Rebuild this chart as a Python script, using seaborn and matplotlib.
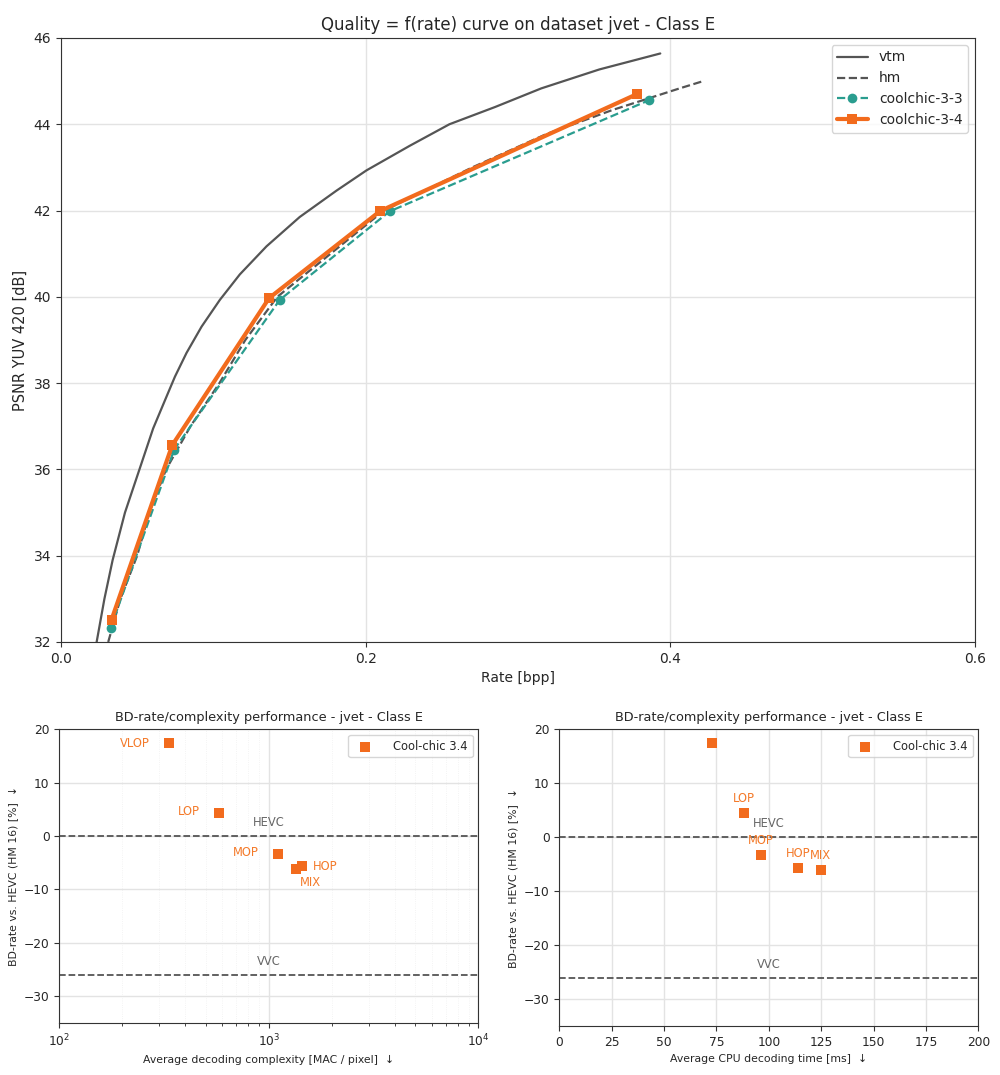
import numpy as np
import pandas as pd
import matplotlib
matplotlib.use("Agg")
import matplotlib.pyplot as plt
import seaborn as sns

# ---------------- data ----------------
vtm_rate = [0.0234, 0.0285, 0.0339, 0.0420, 0.0515, 0.0605, 0.0693, 0.0748, 0.0824,
            0.0923, 0.1043, 0.1174, 0.1349, 0.1567, 0.1808, 0.2005, 0.2289, 0.2550,
            0.2850, 0.3152, 0.3534, 0.3934]
vtm_psnr = [32.00, 33.00, 33.90, 35.00, 36.00, 36.95, 37.69, 38.15, 38.70,
            39.31, 39.93, 40.52, 41.17, 41.85, 42.46, 42.93, 43.50, 44.00,
            44.40, 44.83, 45.27, 45.64]

hm_rate = [0.0310, 0.0390, 0.0500, 0.0580, 0.0690, 0.0850, 0.1040, 0.1210, 0.1420,
           0.1770, 0.2120, 0.2700, 0.3185, 0.3620, 0.4060, 0.4216]
hm_psnr = [32.00, 33.00, 34.00, 35.00, 36.00, 37.00, 38.00, 39.00, 40.00,
           41.00, 42.00, 43.00, 43.77, 44.33, 44.83, 45.00]

cc33_rate = [0.0326, 0.0743, 0.1436, 0.2157, 0.3862]
cc33_psnr = [32.33, 36.46, 39.93, 41.98, 44.56]

cc34_rate = [0.0332, 0.0730, 0.1366, 0.2096, 0.3782]
cc34_psnr = [32.52, 36.56, 39.97, 41.99, 44.70]

configs = ["VLOP", "LOP", "MOP", "HOP", "MIX"]
bd_rate = [17.4, 4.4, -3.3, -5.7, -6.15]
mac_per_pixel = [334, 578, 1109, 1435, 1343]
dec_time_ms = [72.7, 88.0, 96.4, 114.1, 124.7]

hevc_bd = 0.0
vvc_bd = -26.1

# ---------------- style ----------------
sns.set_style("ticks")
plt.rcParams['font.family'] = ['DejaVu Sans']

GRAY = "#555555"
TEAL = "#2a9d8f"
ORANGE = "#f26b1d"
ORANGE_TXT = "#f47a2a"
GRID = "#e3e3e3"
SPINE = "#333333"

fig = plt.figure(figsize=(10, 10.75), dpi=100)
ax = fig.add_axes([0.061, 0.4028, 0.914, 0.5619])
axl = fig.add_axes([0.0593, 0.0486, 0.419, 0.273])
axr = fig.add_axes([0.5593, 0.0456, 0.419, 0.276])

# ---------------- top chart ----------------
df_vtm = pd.DataFrame({"rate": vtm_rate, "psnr": vtm_psnr})
df_hm = pd.DataFrame({"rate": hm_rate, "psnr": hm_psnr})
df_33 = pd.DataFrame({"rate": cc33_rate, "psnr": cc33_psnr})
df_34 = pd.DataFrame({"rate": cc34_rate, "psnr": cc34_psnr})

sns.lineplot(data=df_vtm, x="rate", y="psnr", ax=ax, sort=False, estimator=None,
             color=GRAY, lw=1.6, label="vtm")
sns.lineplot(data=df_hm, x="rate", y="psnr", ax=ax, sort=False, estimator=None,
             color=GRAY, lw=1.6, ls="--", label="hm")
sns.lineplot(data=df_33, x="rate", y="psnr", ax=ax, sort=False, estimator=None,
             color=TEAL, lw=1.6, ls="--", marker="o", markersize=7,
             markeredgewidth=0, label="coolchic-3-3")
sns.lineplot(data=df_34, x="rate", y="psnr", ax=ax, sort=False, estimator=None,
             color=ORANGE, lw=3, marker="s", markersize=7,
             markeredgewidth=0, label="coolchic-3-4")

ax.set_xlim(0.0, 0.6)
ax.set_ylim(32, 46)
ax.set_xticks([0.0, 0.2, 0.4, 0.6])
ax.set_yticks(np.arange(32, 47, 2))
ax.grid(True, color=GRID, lw=1)
ax.set_axisbelow(True)
ax.set_title("Quality = f(rate) curve on dataset jvet - Class E", fontsize=12)
ax.set_xlabel("Rate [bpp]", fontsize=10)
ax.set_ylabel("PSNR YUV 420 [dB]", fontsize=10.5)
ax.tick_params(labelsize=10, color=SPINE)
for s in ax.spines.values():
    s.set_color(SPINE)
leg = ax.legend(loc="upper right", fontsize=10, frameon=True, handlelength=2.2)
leg.get_frame().set_edgecolor("#cccccc")

# ---------------- bottom charts ----------------
df_bd = pd.DataFrame({"config": configs, "bd": bd_rate,
                      "mac": mac_per_pixel, "time": dec_time_ms})


def style_bottom(a, title, xlabel):
    a.set_title(title, fontsize=9.3)
    a.set_xlabel(xlabel, fontsize=7.8)
    a.set_ylabel("BD-rate vs. HEVC (HM 16) [%]  \u2193", fontsize=7.8)
    a.set_ylim(-35, 20)
    a.set_yticks([-30, -20, -10, 0, 10, 20])
    a.tick_params(labelsize=8.8, color=SPINE)
    for s in a.spines.values():
        s.set_color(SPINE)
    a.set_axisbelow(True)
    a.axhline(hevc_bd, color=GRAY, ls="--", lw=1.3, zorder=1)
    a.axhline(vvc_bd, color=GRAY, ls="--", lw=1.3, zorder=1)
    lg = a.legend(loc="upper right", fontsize=8.3, frameon=True, handletextpad=1.5)
    lg.get_frame().set_edgecolor("#cccccc")


# left: complexity (log)
sns.scatterplot(data=df_bd, x="mac", y="bd", ax=axl, color=ORANGE, marker="s",
                s=45, linewidth=0, label="Cool-chic 3.4", zorder=3)
axl.set_xscale("log")
axl.set_xlim(100, 10000)
axl.grid(True, which="major", color=GRID, lw=1)
axl.grid(True, which="minor", axis="x", color="#f0f0f0", lw=0.6, ls=":")
style_bottom(axl, "BD-rate/complexity performance - jvet - Class E",
             "Average decoding complexity [MAC / pixel]  \u2193")
axl.text(1000, hevc_bd + 1.3, "HEVC", color="#666666", fontsize=8.3, ha="center", va="bottom")
axl.text(1000, vvc_bd + 1.3, "VVC", color="#666666", fontsize=8.3, ha="center", va="bottom")
left_offsets = {"VLOP": (-14, 0, "right", "center"),
                "LOP": (-14, 1, "right", "center"),
                "MOP": (-14, 1, "right", "center"),
                "HOP": (8, 0, "left", "center"),
                "MIX": (3, -10, "left", "center")}
for c, xv, yv in zip(configs, mac_per_pixel, bd_rate):
    dx, dy, ha, va = left_offsets[c]
    axl.annotate(c, (xv, yv), xytext=(dx, dy), textcoords="offset points",
                 color=ORANGE_TXT, fontsize=8.3, ha=ha, va=va)

# right: CPU time
sns.scatterplot(data=df_bd, x="time", y="bd", ax=axr, color=ORANGE, marker="s",
                s=45, linewidth=0, label="Cool-chic 3.4", zorder=3)
axr.set_xlim(0, 200)
axr.set_xticks(np.arange(0, 201, 25))
axr.grid(True, which="major", color=GRID, lw=1)
style_bottom(axr, "BD-rate/complexity performance - jvet - Class E",
             "Average CPU decoding time [ms]  \u2193")
axr.text(100, hevc_bd + 1.3, "HEVC", color="#666666", fontsize=8.3, ha="center", va="bottom")
axr.text(100, vvc_bd + 1.3, "VVC", color="#666666", fontsize=8.3, ha="center", va="bottom")
for c, xv, yv in zip(configs, dec_time_ms, bd_rate):
    if c == "VLOP":
        continue
    axr.annotate(c, (xv, yv), xytext=(0, 6), textcoords="offset points",
                 color=ORANGE_TXT, fontsize=8.3, ha="center", va="bottom")

fig.savefig("out.png", dpi=100)
